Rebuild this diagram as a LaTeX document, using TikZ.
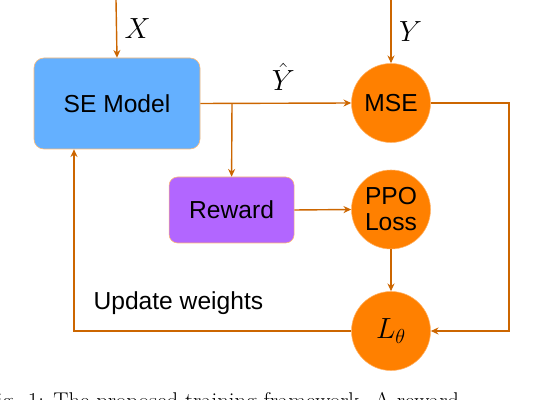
\documentclass[tikz,border=0pt]{standalone}
\usepackage{fontspec}
\newfontfamily\labelfont{Liberation Sans}
\usetikzlibrary{arrows.meta}
\definecolor{seblue}{RGB}{100,176,255}
\definecolor{lossorange}{RGB}{255,128,0}
\definecolor{rewardpurple}{RGB}{178,102,255}
\definecolor{flowline}{RGB}{204,102,0}
\begin{document}
\begin{tikzpicture}[
    block/.style = {draw = orange!55, fill = seblue, rounded corners = 7pt, inner sep = 0pt, font = \labelfont\fontsize{17.5}{18.5}\selectfont},
    lossnode/.style = {circle, draw = orange!60, fill = lossorange, minimum size = 1.975cm, inner sep = 0pt, align = center, font = \labelfont\fontsize{17.5}{18.5}\selectfont},
    flow/.style = {color = flowline, line width = 1pt, -{Stealth[length = 5.5pt, width = 5pt]}},
    mathlabel/.style = {text = black, font = \fontsize{21}{24}\selectfont}
]
    \useasboundingbox (0,0) rectangle (13.6,-10);

    % blocks and losses
    \node (se) at (2.925,-2.5875) [block, minimum width = 4.15cm, minimum height = 2.275cm] {SE Model};
    \node (reward) at (5.79,-5.25) [block, fill = rewardpurple, rounded corners = 6pt, minimum width = 3.125cm, minimum height = 1.65cm] {Reward};
    \node (mse) at (9.775,-2.575) [lossnode] {MSE};
    \node (ppo) at (9.775,-5.2375) [lossnode] {PPO\\Loss};
    \node (lt) at (9.775,-8.275) [lossnode, font = \fontsize{19.5}{22}\selectfont] {$L_\theta$};

    % free ends and corners
    \coordinate (xin) at (2.9,0);
    \coordinate (yin) at (9.775,0);
    \coordinate (br) at (5.8,-2.5875);
    \coordinate (rcorner) at (12.725,-8.275);
    \coordinate (lcorner) at (1.85,-8.275);

    % connectors
    \draw (xin) -- (se.north) [flow] node [pos = 0.5, right = 2pt, mathlabel] {$X$};
    \draw (yin) -- (mse.north) [flow] node [pos = 0.5, right = 2pt, mathlabel] {$Y$};
    \draw (se.east) -- (mse.west) [flow] node [pos = 0.55, above = 5pt, mathlabel] {$\hat{Y}$};
    \draw (br) -- (reward.north) [flow];
    \draw (reward.east) -- (ppo.west) [flow];
    \draw (ppo.south) -- (lt.north) [flow];
    \draw (mse.east) -| (rcorner) -- (lt.east) [flow];
    \draw (lt.west) -- (lcorner) -- (lcorner |- se.south) [flow];

    \node (upd) at (4.46,-7.575) [font = \labelfont\fontsize{17.5}{18.5}\selectfont] {Update weights};

    % caption, cut by the page edge
    \node (cap) at (-0.425,-10.2) [anchor = base west, inner sep = 0pt, font = \fontsize{16.2}{19}\selectfont] {Fig. 1: The proposed training framework. A reward};
\end{tikzpicture}
\end{document}
